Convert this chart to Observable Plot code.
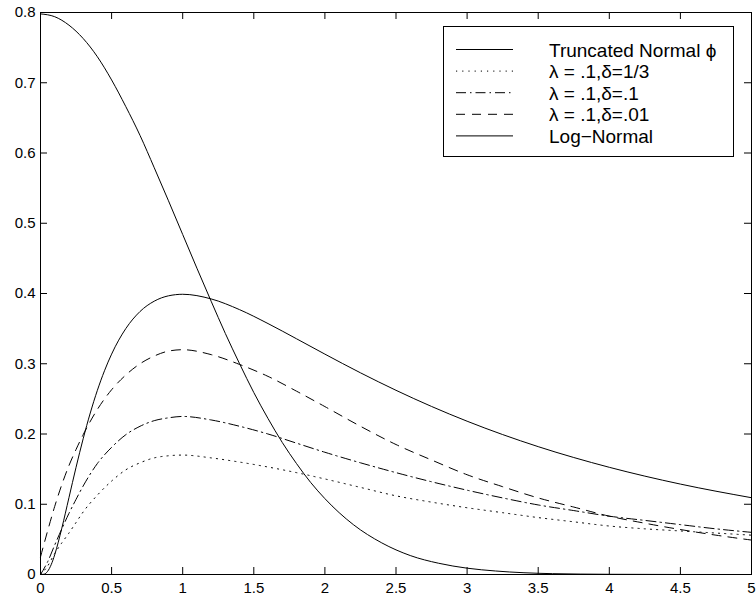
<!DOCTYPE html>
<html><head><meta charset="utf-8">
<script src="https://cdn.jsdelivr.net/npm/d3@7"></script>
<script src="https://cdn.jsdelivr.net/npm/@observablehq/plot@0.6"></script>
<style>
body{margin:0;background:#fff;}
#wrap{position:relative;width:756px;height:600px;}
#legend{position:absolute;left:0;top:0;}
</style></head><body><div id="wrap"></div>
<script>
// ---- data ----
const xTicks = [0, 0.5, 1, 1.5, 2, 2.5, 3, 3.5, 4, 4.5, 5];
const xTickLabels = ["0", "0.5", "1", "1.5", "2", "2.5", "3", "3.5", "4", "4.5", "5"];
const yTicks = [0, 0.1, 0.2, 0.3, 0.4, 0.5, 0.6, 0.7, 0.8];
const yTickLabels = ["0", "0.1", "0.2", "0.3", "0.4", "0.5", "0.6", "0.7", "0.8"];

const seriesNames = ["Truncated Normal \u03D5", "\u03BB = .1,\u03B4=1/3", "\u03BB = .1,\u03B4=.1", "\u03BB = .1,\u03B4=.01", "Log\u2212Normal"];

// Truncated Normal
const tnX = [0,0.1,0.2,0.3,0.4,0.5,0.6,0.7,0.8,0.9,1.0,1.1,1.2,1.3,1.4,1.5,1.6,1.7,1.8,1.9,2.0,2.2,2.4,2.6,2.8,3.0,3.2,3.4,3.6,3.8,4.0,4.5,5.0];
const tnY = [0.798,0.794,0.782,0.763,0.737,0.704,0.666,0.625,0.579,0.532,0.484,0.436,0.389,0.343,0.300,0.259,0.222,0.188,0.158,0.131,0.108,0.071,0.045,0.027,0.016,0.009,0.005,0.0025,0.0012,0.0006,0.0003,0.00003,0.0];

// Log-Normal
const lnX = [0,0.025,0.05,0.075,0.1,0.15,0.2,0.25,0.3,0.35,0.4,0.45,0.5,0.6,0.7,0.8,0.9,1.0,1.2,1.4,1.6,1.8,2.0,2.25,2.5,2.75,3.0,3.5,4.0,4.5,5.0];
const lnY = [0,0.0004,0.0045,0.0139,0.0282,0.066,0.1093,0.1526,0.1932,0.2299,0.2622,0.290,0.3137,0.3501,0.3744,0.3891,0.3967,0.3989,0.3923,0.3770,0.3572,0.3356,0.3137,0.2871,0.2622,0.2392,0.2182,0.1820,0.1526,0.1287,0.1093];

// shared x grid for the three lambda/delta curves
const gridX = [0,0.05,0.1,0.15,0.2,0.25,0.3,0.4,0.5,0.6,0.7,0.8,0.9,1.0,1.2,1.4,1.6,1.8,2.0,2.25,2.5,2.75,3.0,3.25,3.5,3.75,4.0,4.25,4.5,4.75,5.0];
// lambda=.1, delta=1/3 (dotted)
const d3rdY = [0,0.012,0.030,0.045,0.059,0.074,0.089,0.113,0.133,0.149,0.159,0.166,0.169,0.170,0.166,0.160,0.153,0.145,0.136,0.124,0.112,0.103,0.095,0.088,0.081,0.075,0.069,0.065,0.062,0.059,0.056];
// lambda=.1, delta=.1 (dash-dot)
const d1Y = [0,0.018,0.042,0.065,0.087,0.107,0.126,0.158,0.181,0.199,0.211,0.219,0.223,0.225,0.220,0.211,0.200,0.187,0.174,0.159,0.145,0.132,0.120,0.109,0.099,0.091,0.083,0.077,0.071,0.065,0.060];
// lambda=.1, delta=.01 (dashed)
const d01Y = [0.025,0.062,0.097,0.128,0.155,0.178,0.199,0.235,0.263,0.284,0.300,0.311,0.318,0.320,0.313,0.299,0.282,0.261,0.239,0.211,0.185,0.163,0.142,0.125,0.109,0.096,0.083,0.073,0.064,0.056,0.049];

// ---- build tables ----
const toRows = (xs, ys) => xs.map((x, i) => ({x, y: ys[i]}));
const styles = [
  {dash: null},
  {dash: "1.2,5"},
  {dash: "10,4,1.5,4"},
  {dash: "9,7"},
  {dash: null}
];
const series = [
  toRows(tnX, tnY),
  toRows(gridX, d3rdY),
  toRows(gridX, d1Y),
  toRows(gridX, d01Y),
  toRows(lnX, lnY)
];

const W = 756, H = 600, mL = 40, mR = 5, mT = 12, mB = 26;
const plotW = W - mL - mR, plotH = H - mT - mB, tickLen = 7;

const chart = Plot.plot({
  width: W, height: H,
  marginLeft: mL, marginRight: mR, marginTop: mT, marginBottom: mB,
  style: {fontFamily: "'Liberation Sans', Arial, Helvetica, sans-serif", fontSize: "15px", color: "#000", background: "#fff", overflow: "visible"},
  x: {domain: [0, 5], label: null},
  y: {domain: [0, 0.8], label: null},
  marks: [
    ...series.map((rows, i) => Plot.line(rows, {x: "x", y: "y", stroke: "#000", strokeWidth: 1, curve: "monotone-x", strokeDasharray: styles[i].dash})),
    Plot.frame({stroke: "#000", strokeWidth: 1}),
    Plot.ruleX(xTicks, {x: d => d, insetTop: plotH - tickLen, stroke: "#000"}),
    Plot.ruleX(xTicks, {x: d => d, insetBottom: plotH - tickLen, stroke: "#000"}),
    Plot.ruleY(yTicks, {y: d => d, insetRight: plotW - tickLen, stroke: "#000"}),
    Plot.ruleY(yTicks, {y: d => d, insetLeft: plotW - tickLen, stroke: "#000"}),
    Plot.axisX(xTicks, {tickSize: 0, tickPadding: 8, tickFormat: (d) => xTickLabels[xTicks.indexOf(d)], label: null}),
    Plot.axisY(yTicks, {tickSize: 0, tickPadding: 5, tickFormat: (d) => yTickLabels[yTicks.indexOf(d)], label: null})
  ]
});
const wrap = document.getElementById("wrap");
wrap.appendChild(chart);

// ---- legend ----
const lg = d3.select(wrap).append("svg").attr("id", "legend").attr("width", W).attr("height", H);
const box = {x: 443, y: 26, w: 290, h: 130};
lg.append("rect").attr("x", box.x + 0.5).attr("y", box.y + 0.5).attr("width", box.w).attr("height", box.h)
  .attr("fill", "#fff").attr("stroke", "#000").attr("stroke-width", 1);
seriesNames.forEach((name, i) => {
  const cy = 49.5 + i * 21.6;
  lg.append("line").attr("x1", 456).attr("x2", 513).attr("y1", cy).attr("y2", cy)
    .attr("stroke", "#000").attr("stroke-width", 1)
    .attr("stroke-dasharray", styles[i].dash);
  lg.append("text").attr("x", 549).attr("y", cy + 7).text(name)
    .attr("font-family", "'Liberation Sans', Arial, Helvetica, sans-serif").attr("font-size", "19px").attr("fill", "#000");
});
</script></body></html>
